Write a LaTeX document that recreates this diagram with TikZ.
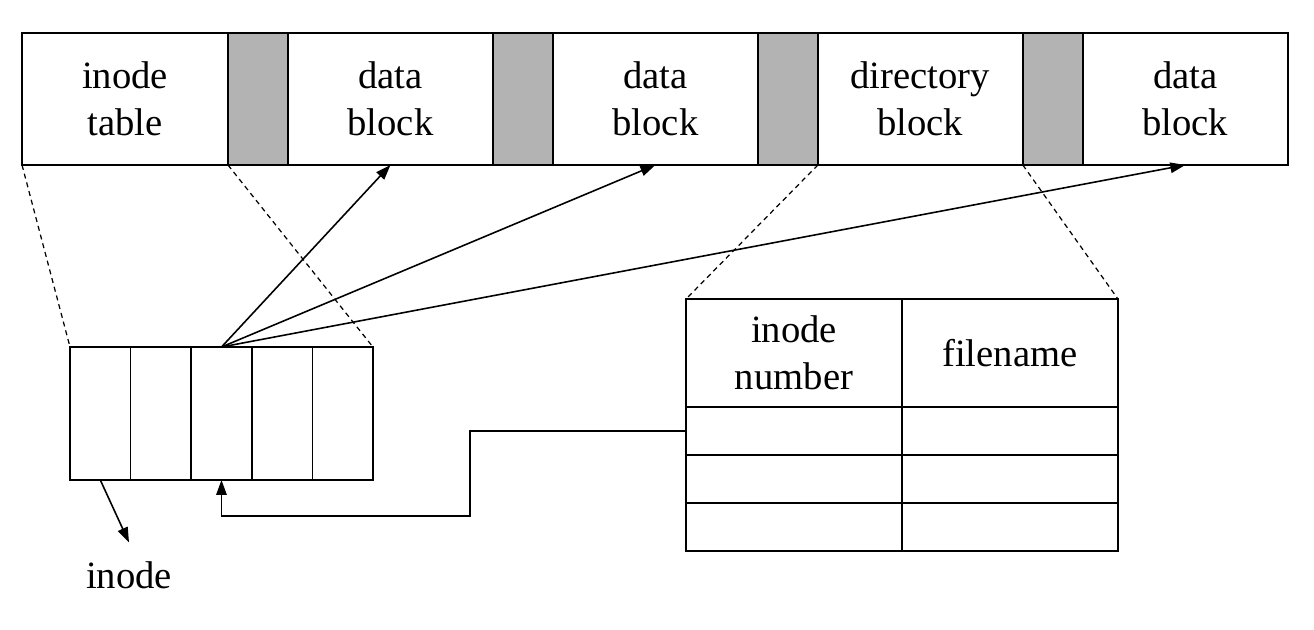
\documentclass[tikz,border=0pt]{standalone}
\usepackage{fontspec}
\setmainfont{Liberation Serif}
\usepackage{tikz}
\usetikzlibrary{positioning, arrows.meta}
\definecolor{gapgray}{HTML}{B3B3B3}

\begin{document}
\begin{tikzpicture}[x=0.02cm, y=-0.02cm,
    font=\fontsize{22}{26.5}\selectfont, line width=0.9pt,
    blk/.style={draw, fill=white, minimum width=4.1cm, minimum height=2.64cm,
                inner sep=0pt, outer sep=0pt, align=center},
    gap/.style={blk, fill=gapgray, minimum width=1.2cm},
    cell/.style={draw, minimum width=1.212cm, minimum height=2.66cm, inner sep=0pt, outer sep=0pt},
    tcell/.style={draw, minimum width=4.32cm, minimum height=0.96cm, inner sep=0pt, outer sep=0pt, align=center},
    arr/.style={-{Triangle[length=0.3cm, width=0.21cm]}},
    zoomline/.style={dash pattern=on 0.1cm off 0.08cm, line width=0.7pt}]
    \useasboundingbox (0,0) rectangle (1314,629);

    % Disk layout
    \node[blk, minimum width=4.12cm] (itab) at (125,99) {inode\\table};
    \node[gap, right=0pt of itab] (g1) {};
    \node[blk, right=0pt of g1] (db1) {data\\block};
    \node[gap, right=0pt of db1] (g2) {};
    \node[blk, right=0pt of g2] (db2) {data\\block};
    \node[gap, right=0pt of db2] (g3) {};
    \node[blk, right=0pt of g3] (dir) {directory\\block};
    \node[gap, right=0pt of dir] (g4) {};
    \node[blk, right=0pt of g4] (db3) {data\\block};

    % One inode
    \node[cell] (c1) at (100.3,413.5) {};
    \node[cell, right=0pt of c1] (c2) {};
    \node[cell, right=0pt of c2] (c3) {};
    \node[cell, right=0pt of c3] (c4) {};
    \node[cell, right=0pt of c4] (c5) {};
    \node[inner sep=0pt, outer sep=0.38cm] (lbl) at (129,575) {inode};

    % Directory entries
    \node[tcell, minimum height=2.16cm] (hdA) at (794,353) {inode\\number};
    \node[tcell, minimum height=2.16cm, right=0pt of hdA] (hdB) {filename};
    \node[tcell, below=0pt of hdA] (r1a) {};
    \node[tcell, below=0pt of hdB] (r1b) {};
    \node[tcell, below=0pt of r1a] (r2a) {};
    \node[tcell, below=0pt of r1b] (r2b) {};
    \node[tcell, below=0pt of r2a] (r3a) {};
    \node[tcell, below=0pt of r2b] (r3b) {};

    % Zoom lines
    \draw[zoomline] (itab.south west) -- (c1.north west);
    \draw[zoomline] (itab.south east) -- (c5.north east);
    \draw[zoomline] (dir.south west) -- (hdA.north west);
    \draw[zoomline] (dir.south east) -- (hdB.north east);

    % Arrows
    \draw[arr] (c3.north) -- (db1.south);
    \draw[arr] (c3.north) -- (db2.south);
    \draw[arr] (c3.north) -- (db3.south);
    \draw[arr] (c1.south) -- (lbl.north);
    \coordinate (bend) at (470,516);
    \draw[arr] (r1a.west) -| (bend) -| (c3.south);
  \end{tikzpicture}
\end{document}
